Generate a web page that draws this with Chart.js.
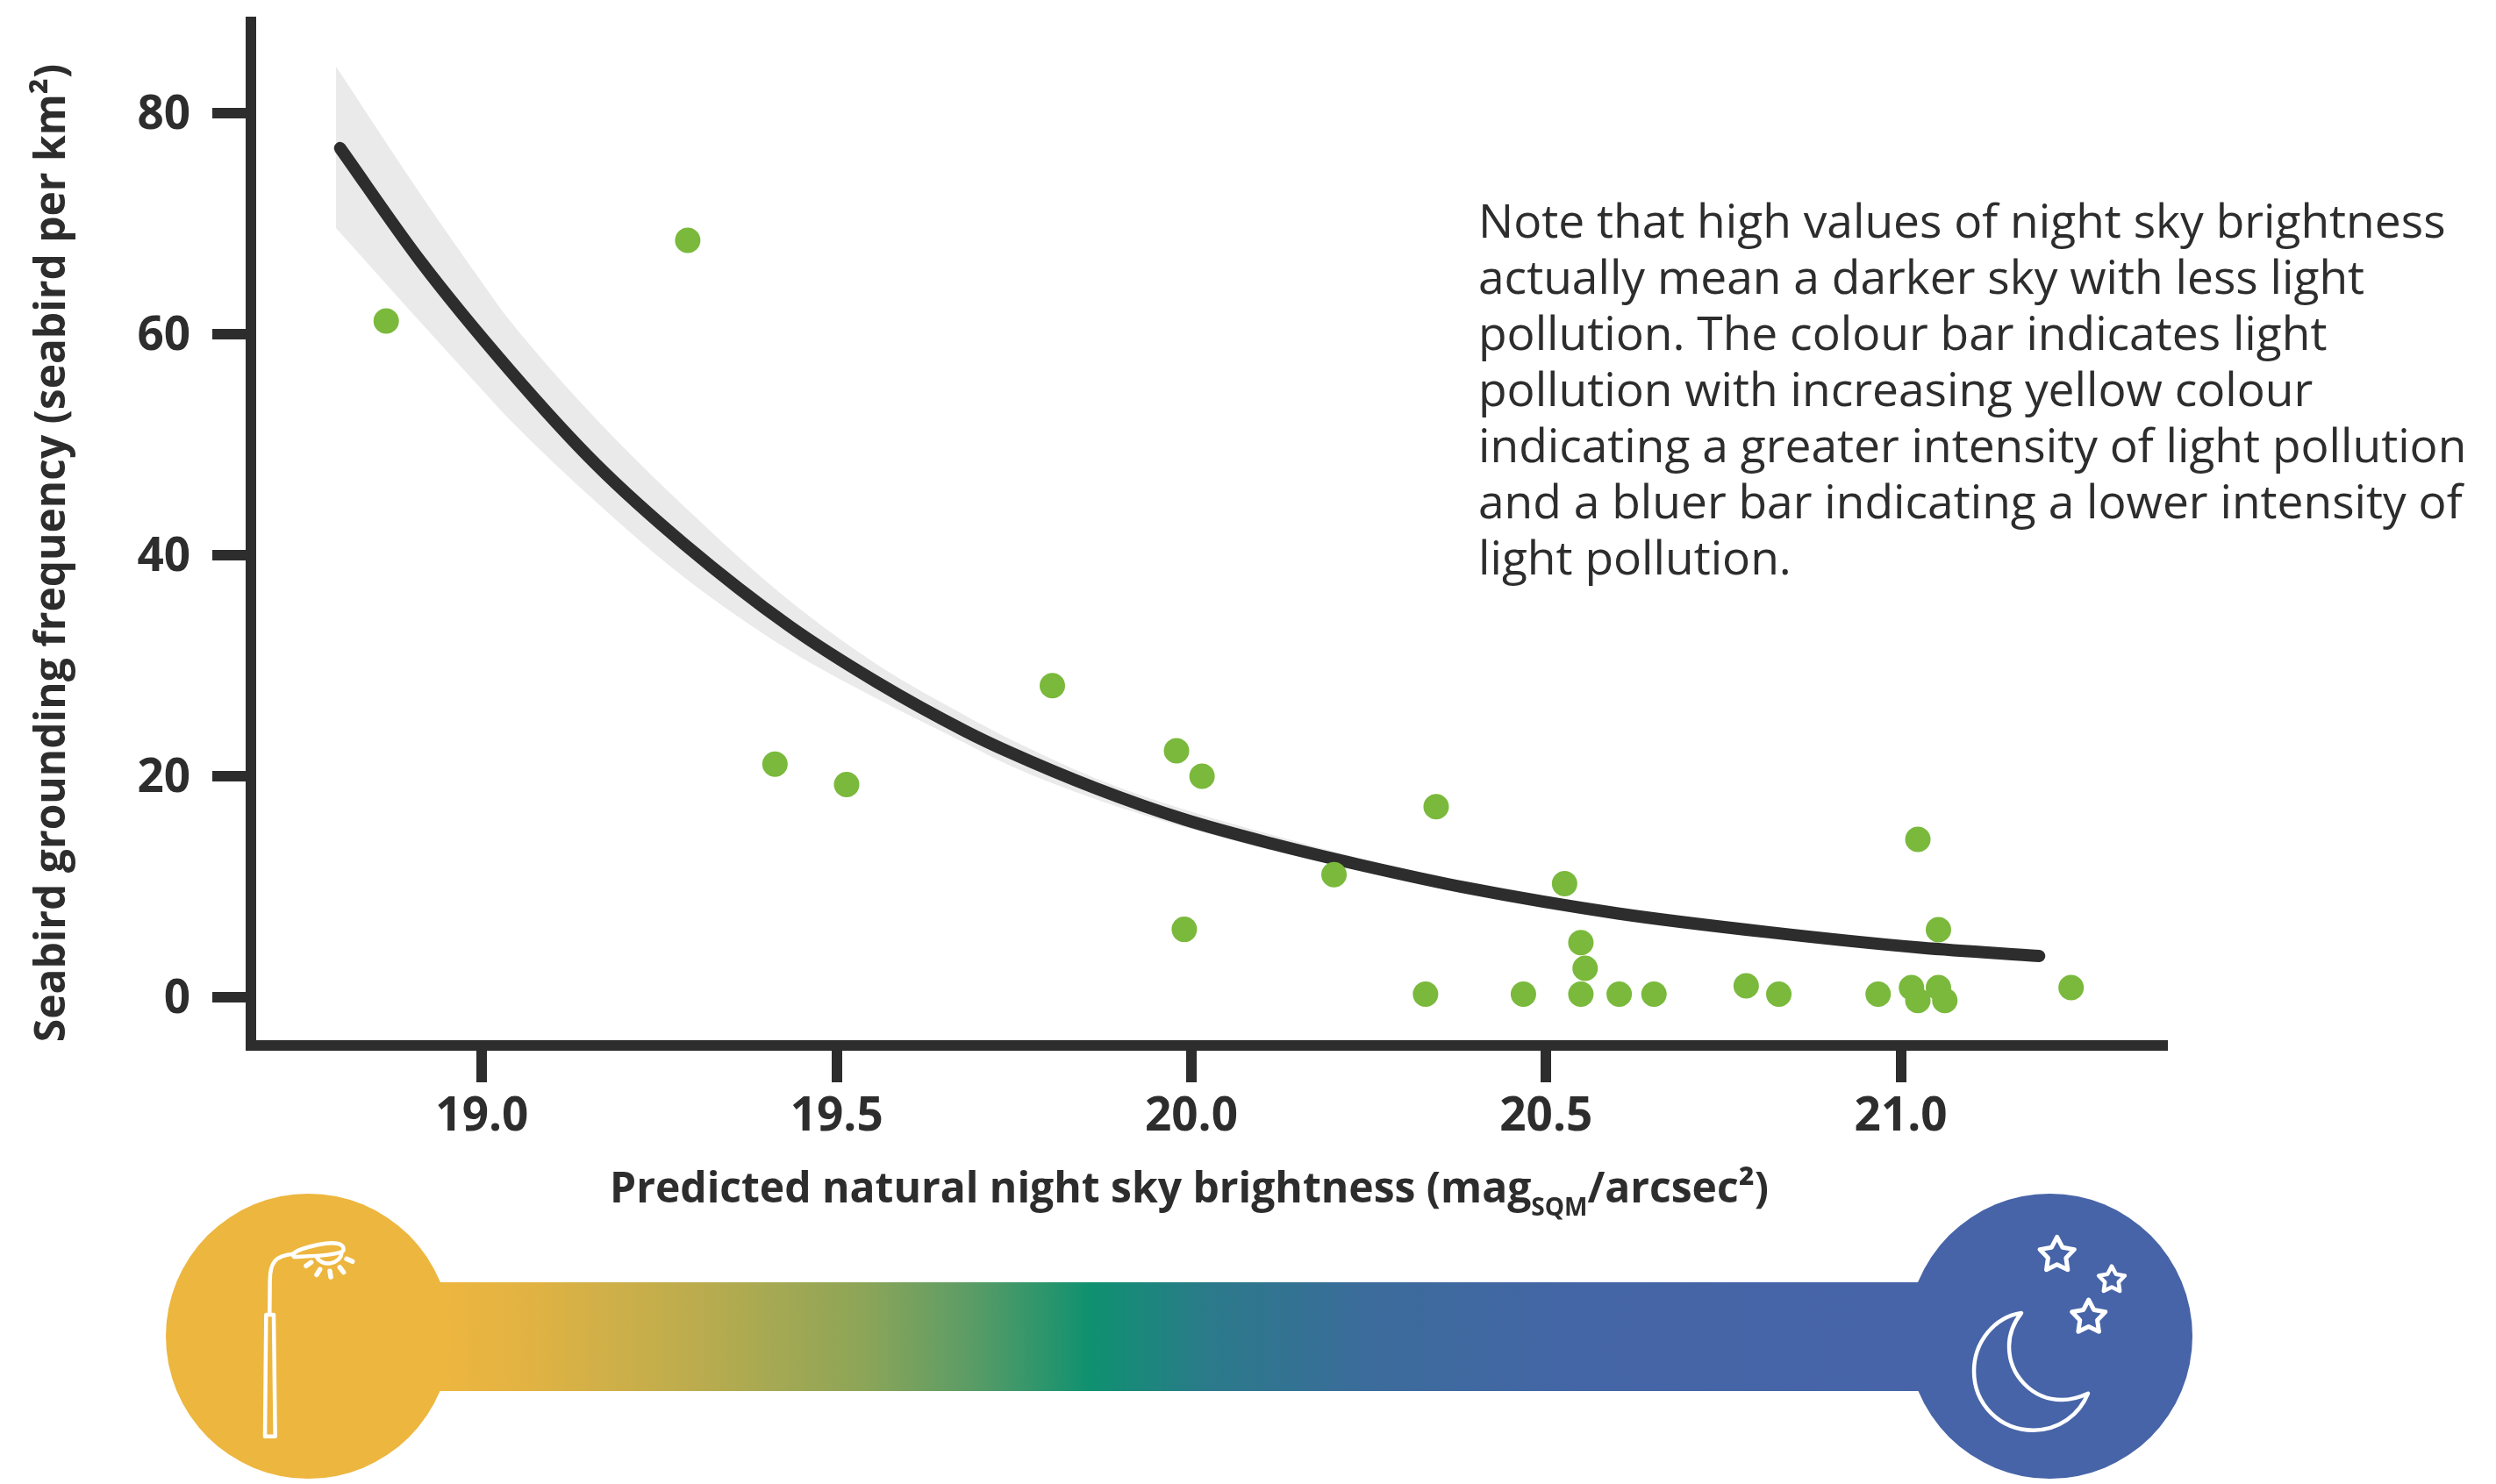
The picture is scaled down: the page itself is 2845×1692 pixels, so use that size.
<!DOCTYPE html>
<html><head><meta charset="utf-8">
<style>html,body{margin:0;padding:0;background:#fff}canvas{display:block}</style>
<script src="https://cdn.jsdelivr.net/npm/chart.js@4/dist/chart.umd.js"></script>
</head><body>
<canvas id="c" width="2845" height="1692"></canvas>
<script>
const pointX=[18.865,19.29,19.413,19.514,19.804,19.979,20.015,19.99,20.201,20.33,20.345,20.468,20.526,20.549,20.555,20.549,20.603,20.652,20.782,20.828,20.968,21.015,21.024,21.024,21.053,21.053,21.062,21.24];
const pointY=[61.17,68.46,21.1,19.25,28.2,22.3,20.0,6.16,11.1,0.3,17.26,0.3,10.3,4.97,2.64,0.3,0.3,0.3,1.05,0.3,0.3,0.9,14.3,-0.27,0.9,6.13,-0.27,0.9];
const curveX=[18.8,18.913,19.038,19.161,19.285,19.433,19.557,19.681,19.743,19.866,19.99,20.114,20.237,20.389,20.601,20.814,21.028,21.195];
const curveY=[76.8,66.6,56.8,48.2,41.0,33.6,28.5,24.1,22.2,18.9,16.1,13.9,12.0,9.9,7.6,5.9,4.5,3.75];
const bandX=[18.794,18.9,19.005,19.038,19.161,19.285,19.433,19.557,19.681,19.743,19.866,19.99,20.114,20.237,20.389,20.601,21.195];
const bandUpper=[84.2,73.9,64.2,61.3,52.3,44.4,35.9,30.1,25.5,23.4,19.8,17.0,14.7,12.6,10.2,7.8,3.85];
const bandLower=[69.6,62.0,54.6,52.3,44.8,38.0,31.4,27.0,23.0,21.0,17.9,15.4,13.3,11.5,9.6,7.4,3.65];
const xTicks=[19,19.5,20,20.5,21];
const yTicks=[0,20,40,60,80];
const yTitle='Seabird grounding frequency (seabird per km²)';
const xTitleParts=['Predicted natural night sky brightness (mag','SQM','/arcsec²)'];
const noteLines=['Note that high values of night sky brightness','actually mean a darker sky with less light','pollution. The colour bar indicates light','pollution with increasing yellow colour','indicating a greater intensity of light pollution','and a bluer bar indicating a lower intensity of','light pollution.'];
const INK='#2d2d2d', FONT='"Open Sans"';
const zip=(a,b)=>a.map((v,i)=>({x:v,y:b[i]}));

const decor={id:'decor',
 beforeDraw(chart){
  const s=chart.scales.y;
  if(!s._wrapped){const o=s.drawTitle;s.drawTitle=function(){const c=this.ctx;c.save();c.translate(0,22);o.call(this);c.restore();};s._wrapped=true;}
 },
 afterDraw(chart){
  const c=chart.ctx;c.save();
  c.fillStyle=INK;c.textBaseline='alphabetic';c.textAlign='left';
  // x axis title
  c.font='bold 48px '+FONT;
  let x=695;c.fillText(xTitleParts[0],x,1371);x+=c.measureText(xTitleParts[0]).width;
  c.font='bold 28px '+FONT;c.fillText(xTitleParts[1],x,1386);x+=c.measureText(xTitleParts[1]).width;
  c.font='bold 48px '+FONT;c.fillText(xTitleParts[2],x,1371);
  // note
  c.font='53.3px '+FONT;
  noteLines.forEach((t,i)=>c.fillText(t,1685,271+i*64));
  // colour bar
  const g=c.createLinearGradient(502,0,2190,0);
  [[502,'#edb63f'],[592,'#e3b342'],[794,'#bbac4e'],[985,'#8ca558'],[1108,'#5a9c66'],[1243,'#0f9170'],[1378,'#2b7a8a'],[1557,'#3b6c9b'],[1804,'#4465a6'],[2190,'#4764a8']]
   .forEach(([p,col])=>g.addColorStop((p-502)/1688,col));
  c.fillStyle=g;c.fillRect(500,1462,1692,124);
  c.fillStyle='#edb63f';c.beginPath();c.arc(351.5,1523.5,162.5,0,Math.PI*2);c.fill();
  c.fillStyle='#4764a8';c.beginPath();c.arc(2336.5,1523.5,162.5,0,Math.PI*2);c.fill();
  // lamp
  c.strokeStyle='#fff';c.lineCap='round';c.lineJoin='round';c.lineWidth=4.5;
  const L=(a,b)=>[150+a/3,1320+b/3];
  c.beginPath();c.moveTo(...L(460,537));c.lineTo(...L(486,537));c.lineTo(...L(491,953));c.lineTo(...L(456,953));c.closePath();c.stroke();
  c.beginPath();c.moveTo(...L(472,530));c.lineTo(...L(473,420));c.bezierCurveTo(...L(473,355),...L(495,335),...L(550,329));c.stroke();
  c.beginPath();c.moveTo(...L(556,339));c.bezierCurveTo(...L(540,325),...L(580,310),...L(640,297));c.bezierCurveTo(...L(690,287),...L(730,290),...L(724,318));c.bezierCurveTo(...L(700,335),...L(620,336),...L(556,339));c.stroke();
  c.beginPath();c.moveTo(...L(633,340));c.bezierCurveTo(...L(650,375),...L(715,365),...L(718,325));c.stroke();
  [[597,370,614,358],[633,400,644,382],[681,408,678,388],[725,392,712,375],[755,355,735,346]].forEach(r=>{c.lineWidth=5.5;c.beginPath();c.moveTo(...L(r[0],r[1]));c.lineTo(...L(r[2],r[3]));c.stroke();});
  // moon
  const M=(a,b)=>[2150+a/3,1320+b/3];
  c.lineWidth=4.5;c.beginPath();c.moveTo(...M(462,531));
  c.bezierCurveTo(...M(370,545),...M(300,630),...M(300,730));
  c.bezierCurveTo(...M(300,845),...M(390,932),...M(503,932));
  c.bezierCurveTo(...M(590,932),...M(660,880),...M(690,806));
  c.bezierCurveTo(...M(660,820),...M(630,828),...M(600,828));
  c.bezierCurveTo(...M(500,828),...M(420,745),...M(420,645));
  c.bezierCurveTo(...M(420,600),...M(435,565),...M(462,531));
  c.closePath();c.stroke();
  // stars
  [[584,333,62],[771,418,47],[692,546,60]].forEach(([a,b,r])=>{
    c.lineWidth=r<50?4.5:5;c.beginPath();
    for(let i=0;i<10;i++){const R=(i%2?r*0.52:r),t=-Math.PI/2+i*Math.PI/5;const p=M(a+R*Math.cos(t),b+R*Math.sin(t));i?c.lineTo(...p):c.moveTo(...p);}
    c.closePath();c.stroke();});
  c.restore();
 }};

new Chart(document.getElementById('c'),{
 type:'scatter',
 data:{datasets:[
  {label:'Upper bound',data:zip(bandX,bandUpper),showLine:true,pointRadius:0,borderWidth:0,borderColor:'transparent',backgroundColor:'#eaeaea',fill:'+1',cubicInterpolationMode:'monotone',order:3},
  {label:'Lower bound',data:zip(bandX,bandLower),showLine:true,pointRadius:0,borderWidth:0,borderColor:'transparent',fill:false,cubicInterpolationMode:'monotone',order:4},
  {label:'Fit',data:zip(curveX,curveY),showLine:true,pointRadius:0,borderWidth:14,borderColor:INK,borderCapStyle:'round',fill:false,cubicInterpolationMode:'monotone',order:2},
  {label:'Sites',data:zip(pointX,pointY),pointRadius:14.5,pointBorderWidth:0,pointBackgroundColor:'#7ab93c',backgroundColor:'#7ab93c',order:1}
 ]},
 options:{
  responsive:false,animation:false,devicePixelRatio:1,
  layout:{padding:{left:0,top:25,right:380,bottom:0}},
  plugins:{legend:{display:false},tooltip:{enabled:false}},
  scales:{
   x:{type:'linear',min:18.6743,max:21.369,
    afterBuildTicks:s=>{s.ticks=xTicks.map(v=>({value:v}));},
    afterFit:s=>{s.height=500;s.paddingLeft=0;s.paddingRight=0;},
    border:{display:true,width:12,color:INK},
    grid:{display:true,drawOnChartArea:false,drawTicks:true,tickLength:42,tickWidth:12,tickColor:INK,color:INK,lineWidth:12},
    ticks:{autoSkip:false,maxRotation:0,padding:8,color:INK,font:{family:FONT,weight:'bold',size:53},callback:v=>Number(v).toFixed(1)}
   },
   y:{type:'linear',min:-4.338,max:88.21,
    afterBuildTicks:s=>{s.ticks=yTicks.map(v=>({value:v}));},
    afterFit:s=>{s.width=286;s.paddingTop=0;s.paddingBottom=0;},
    border:{display:true,width:12,color:INK},
    grid:{display:true,drawOnChartArea:false,drawTicks:true,tickLength:44,tickWidth:12,tickColor:INK,color:INK,lineWidth:12},
    ticks:{autoSkip:false,padding:25,labelOffset:3,color:INK,font:{family:FONT,weight:'bold',size:53},callback:v=>String(v)},
    title:{display:true,text:yTitle,color:INK,padding:{top:32,bottom:0},font:{family:FONT,weight:'bold',size:47.9}}
   }
  }
 },
 plugins:[decor]
});
</script>
</body></html>
